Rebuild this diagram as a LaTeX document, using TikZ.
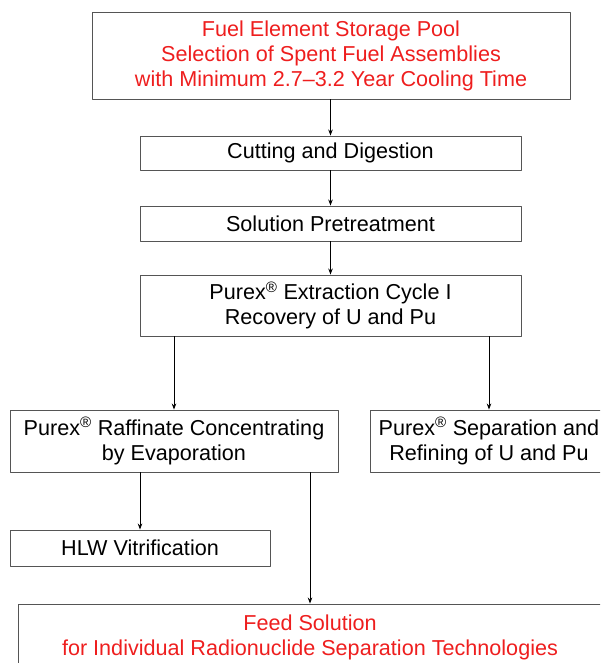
\documentclass[tikz,border=0pt]{standalone}
\usepackage{fontspec}
\setmainfont{Liberation Sans}
\usetikzlibrary{arrows.meta}
\definecolor{poolred}{RGB}{238,30,30}
\definecolor{boxgray}{RGB}{85,85,85}

\begin{document}
\begin{tikzpicture}[x=1pt,y=1pt,line cap=round,line join=round,>={Stealth[length=6pt,width=4.5pt]}]
  \tikzset{
    stepbox/.style={draw=boxgray,line width=0.9pt,inner sep=0pt,align=center,
      font=\fontsize{21.6}{25}\selectfont},
    flow/.style={->,line width=0.8pt},
  }
  \def\reg{\textsuperscript{\textregistered}}

  \clip (0,0) rectangle (600,663);
  \useasboundingbox (0,0) rectangle (600,663);

  % ==================== head of the chain ====================
  \node[stepbox,text=poolred,minimum width=478,minimum height=87] (pool) at (331,607.5)
    {Fuel Element Storage Pool\\Selection of Spent Fuel Assemblies\\with Minimum 2.7--3.2 Year Cooling Time};
  \node[stepbox,minimum width=381,minimum height=34] (cut) at (330.5,510) {Cutting and Digestion};
  \node[stepbox,minimum width=381,minimum height=35] (pre) at (330.5,439.5) {Solution Pretreatment};
  \node[stepbox,minimum width=381,minimum height=61] (cyc) at (330.5,357.5)
    {Purex\reg{} Extraction Cycle I\\Recovery of U and Pu};

  % ==================== branches ====================
  \node[stepbox,minimum width=328,minimum height=62] (raf) at (174,222)
    {Purex\reg{} Raffinate Concentrating\\by Evaporation};
  \node[stepbox,minimum width=238,minimum height=62] (sep) at (489,222)
    {Purex\reg{} Separation and\\Refining of U and Pu};
  \node[stepbox,minimum width=260,minimum height=36] (hlw) at (140,115) {HLW Vitrification};
  \node[stepbox,text=poolred,minimum width=584,minimum height=66] (feed) at (310,26)
    {Feed Solution\\for Individual Radionuclide Separation Technologies};

  % ==================== arrows ====================
  \draw[flow] (pool.south -| cut.north) -- (cut.north);
  \draw[flow] (cut) -- (pre);
  \draw[flow] (pre) -- (cyc);
  \draw[flow] (cyc.south -| raf.north) -- (raf.north);
  \draw[flow] (cyc.south -| sep.north) -- (sep.north);
  \draw[flow] (raf.south -| hlw.north) -- (hlw.north);
  \draw[flow] (raf.south -| feed.north) -- (feed.north);
\end{tikzpicture}
\end{document}
